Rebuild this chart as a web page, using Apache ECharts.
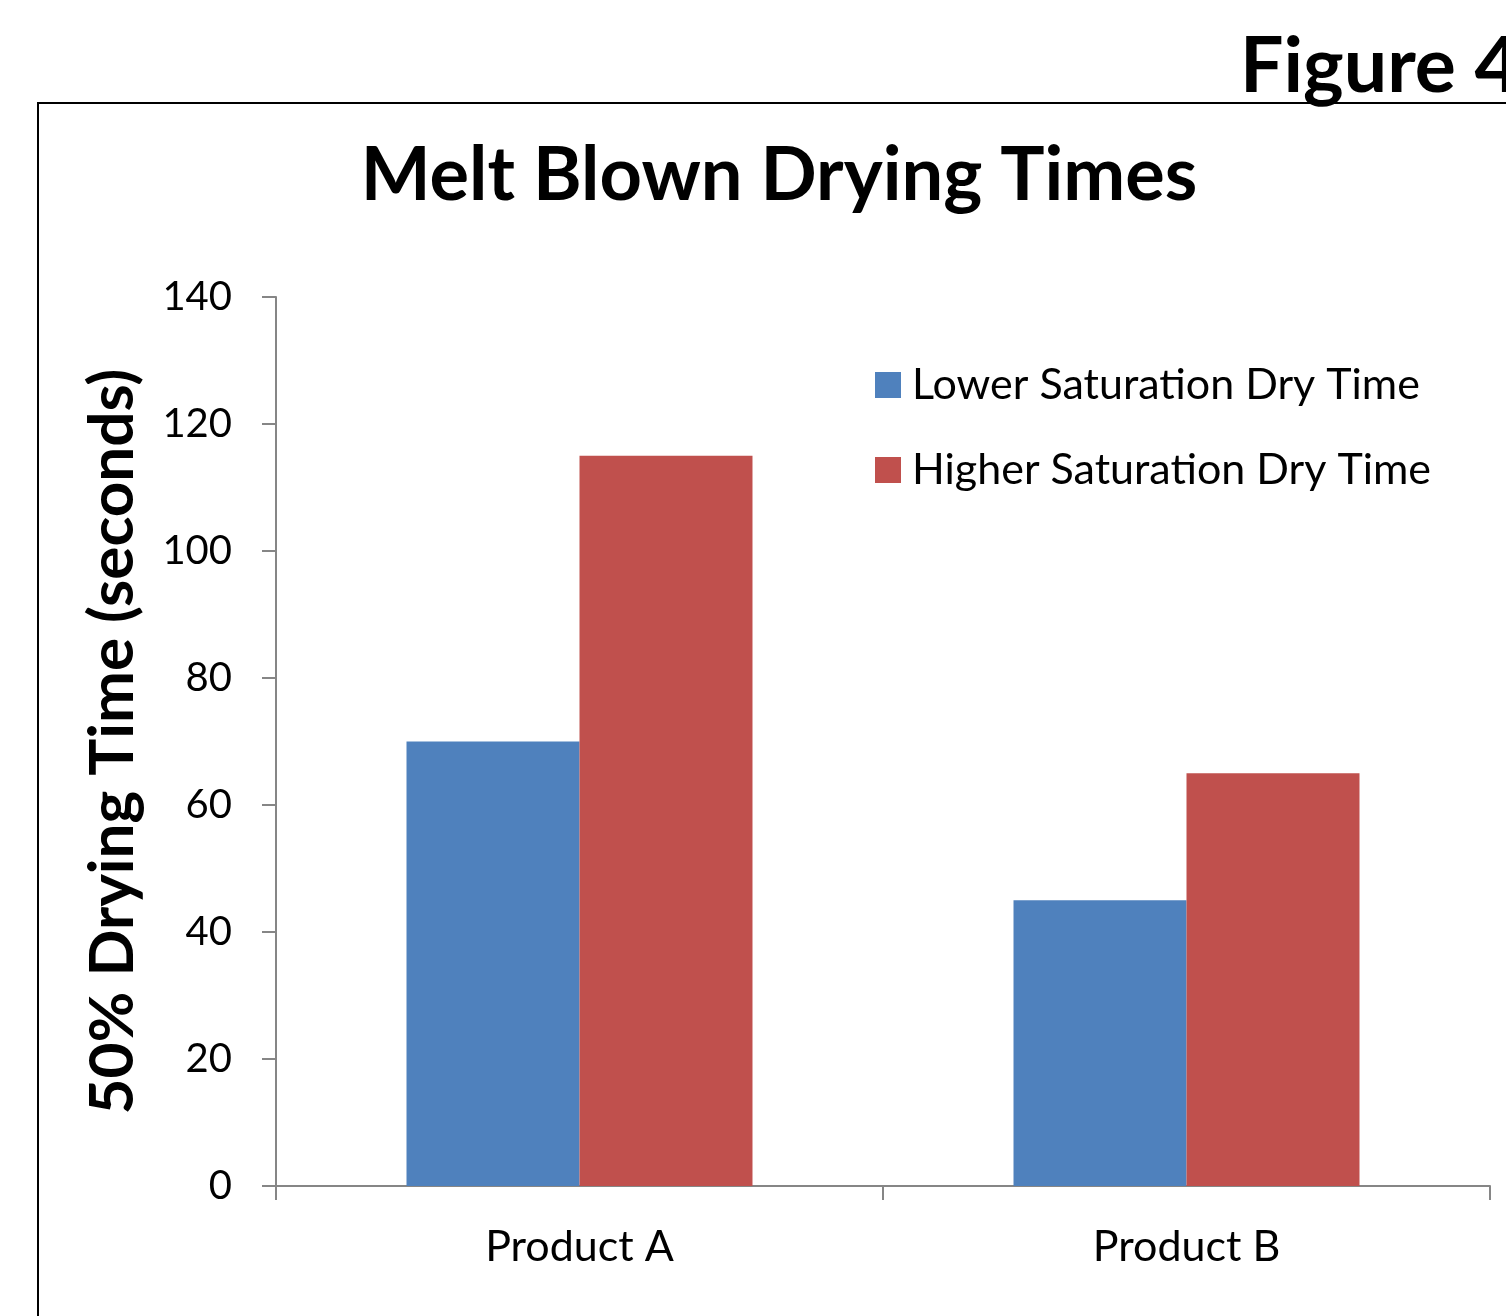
<!DOCTYPE html>
<html>
<head>
<meta charset="utf-8">
<script src="https://cdn.jsdelivr.net/npm/echarts@6/dist/echarts.min.js"></script>
<style>
html,body{margin:0;padding:0;background:#fff;}
#chart{width:1506px;height:1316px;}
</style>
</head>
<body>
<div id="chart"></div>
<script>
const categories = ['Product A', 'Product B'];
const lowerSat = [70, 45];
const higherSat = [115, 65];
const seriesNames = ['Lower Saturation Dry Time', 'Higher Saturation Dry Time'];
const yTicks = [0, 20, 40, 60, 80, 100, 120, 140];

const FONT = 'Lato';
const chart = echarts.init(document.getElementById('chart'));
chart.setOption({
  animation: false,
  backgroundColor: '#fff',
  title: {
    text: 'Melt Blown Drying Times',
    left: 774, top: 134,
    textAlign: 'center',
    textStyle: {fontFamily: FONT, fontWeight: 'bold', fontSize: 74, color: '#000'}
  },
  graphic: [
    {type: 'rect', shape: {x: 38, y: 103, width: 1600, height: 1400}, style: {fill: 'none', stroke: '#000', lineWidth: 2}, z: 0},
    {type: 'text', x: 1240, y: 106, style: {text: 'Figure 4', font: 'bold 77px Lato', fill: '#000', textVerticalAlign: 'bottom'}}
  ],
  legend: {
    orient: 'vertical',
    left: 870, top: 358,
    itemWidth: 26, itemHeight: 26,
    itemGap: 41,
    icon: 'rect',
    textStyle: {fontFamily: FONT, fontSize: 43, lineHeight: 44, color: '#000', padding: [0, 0, 0, 6]},
    data: seriesNames
  },
  grid: {left: 276, top: 297, right: 16, bottom: 130, containLabel: false},
  xAxis: {
    type: 'category',
    data: categories,
    axisLine: {lineStyle: {color: '#868686', width: 2}},
    axisTick: {show: true, length: 14, lineStyle: {color: '#868686', width: 2}},
    axisLabel: {fontFamily: FONT, fontSize: 43, color: '#000', margin: 40}
  },
  yAxis: {
    type: 'value',
    min: 0, max: 140, interval: 20,
    name: '50% Drying Time (seconds)',
    nameLocation: 'middle',
    nameGap: 132,
    nameTextStyle: {fontFamily: FONT, fontWeight: 'bold', fontSize: 62, color: '#000'},
    axisLine: {show: true, lineStyle: {color: '#868686', width: 2}},
    axisTick: {show: true, length: 14, inside: false, lineStyle: {color: '#868686', width: 2}},
    splitLine: {show: false},
    axisLabel: {fontFamily: FONT, fontSize: 40, color: '#000', margin: 44,
      formatter: v => yTicks.includes(v) ? String(v) : ''}
  },
  series: [
    {name: seriesNames[0], type: 'bar', data: lowerSat, barGap: '0%', barCategoryGap: '43%', itemStyle: {color: '#4F81BD'}},
    {name: seriesNames[1], type: 'bar', data: higherSat, barGap: '0%', barCategoryGap: '43%', itemStyle: {color: '#C0504D'}}
  ]
});
</script>
</body>
</html>
